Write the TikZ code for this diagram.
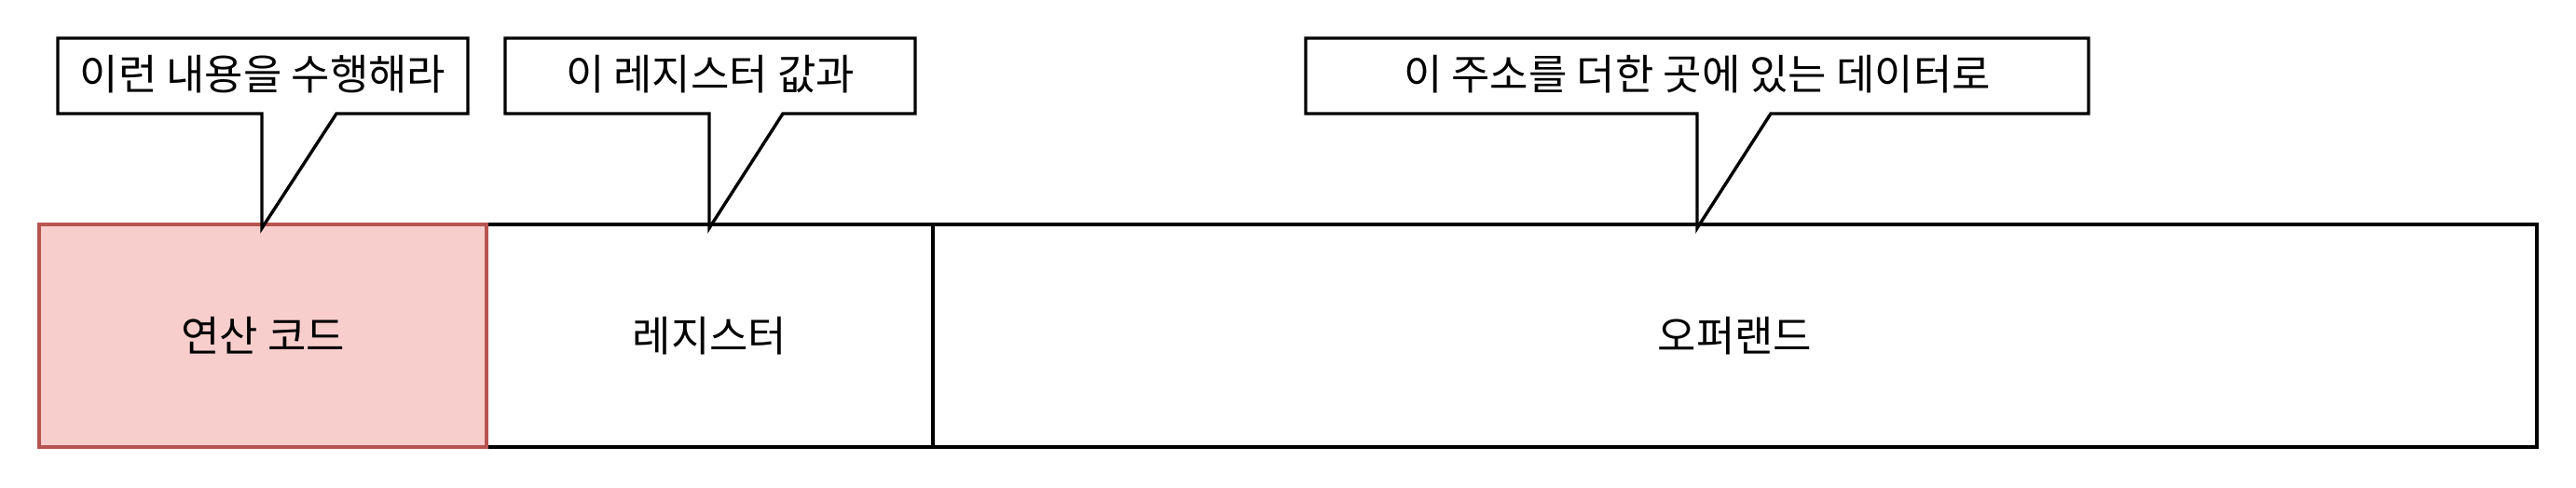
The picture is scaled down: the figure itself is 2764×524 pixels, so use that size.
\documentclass[tikz,border=0pt]{standalone}
\usepackage{fontspec}
\setmainfont{Noto Sans CJK KR}
\definecolor{redfill}{HTML}{F8CECC}
\definecolor{redline}{HTML}{B85450}
\begin{document}
\begin{tikzpicture}[x=0.5pt,y=-0.5pt,
  field/.style={draw=black,line width=1.7pt,fill=white,inner sep=0pt,minimum height=119.5pt,
    font=\fontsize{22.5pt}{27pt}\selectfont},
  callout/.style={draw=black,line width=1.7pt,fill=white,line join=miter},
  calltext/.style={inner sep=0pt,font=\fontsize{22.5pt}{27pt}\selectfont}]
\useasboundingbox (0,0) rectangle (2764,524);
% fields
\node[field,minimum width=479.5pt,anchor=center] (reg) at (761.5,360.5) {레지스터};
\node[field,minimum width=860.5pt,anchor=center] (opd) at (1861.5,360.5) {오퍼랜드};
\node[field,fill=redfill,draw=redline,minimum width=240pt,anchor=center] (op) at (282,360.5) {연산 코드};
% callouts
\coordinate (t1) at (281,245);
\coordinate (t2) at (761,245);
\coordinate (t3) at (1821,245);
\draw[callout] (62,41) -- (502,41) -- (502,122) -- (361,122) -- (t1) -- (281,122) -- (62,122) -- cycle;
\draw[callout] (542,41) -- (982,41) -- (982,122) -- (840,122) -- (t2) -- (761,122) -- (542,122) -- cycle;
\draw[callout] (1401,41) -- (2241,41) -- (2241,122) -- (1900,122) -- (t3) -- (1821,122) -- (1401,122) -- cycle;
\node[calltext] (c1) at (282,80) {이런 내용을 수행해라};
\node[calltext] (c2) at (762,80) {이 레지스터 값과};
\node[calltext] (c3) at (1821,80) {이 주소를 더한 곳에 있는 데이터로};
\end{tikzpicture}
\end{document}
